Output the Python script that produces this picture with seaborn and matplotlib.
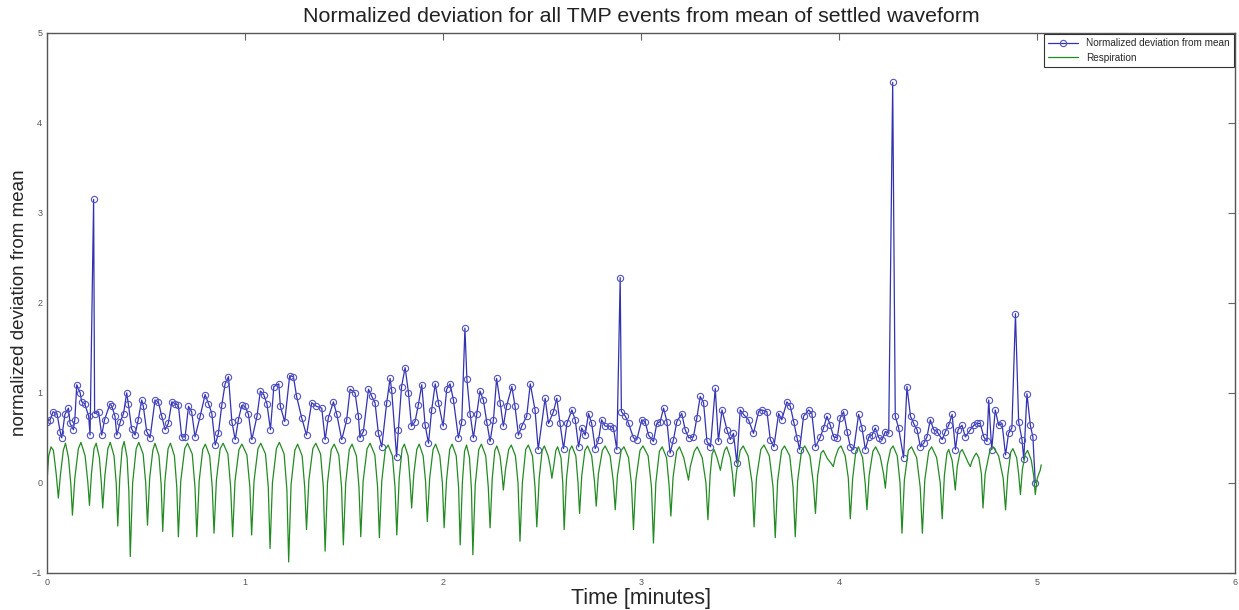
import matplotlib
matplotlib.use("Agg")
import matplotlib.pyplot as plt
import seaborn as sns

# normalized deviation of each TMP event (time in minutes, value)
dev_t = [
    0.000, 0.015, 0.030, 0.050, 0.066, 0.074, 0.090, 0.108, 0.116, 0.133,
    0.140, 0.150, 0.167, 0.175, 0.190, 0.210, 0.217, 0.235, 0.240, 0.260,
    0.276, 0.290, 0.318, 0.327, 0.343, 0.352, 0.370, 0.386, 0.402, 0.410,
    0.427, 0.444, 0.460, 0.478, 0.486, 0.503, 0.520, 0.545, 0.562, 0.579,
    0.596, 0.612, 0.630, 0.646, 0.663, 0.680, 0.697, 0.714, 0.730, 0.747,
    0.773, 0.798, 0.815, 0.832, 0.849, 0.865, 0.882, 0.899, 0.916, 0.933,
    0.950, 0.966, 0.983, 1.000, 1.017, 1.034, 1.060, 1.077, 1.094, 1.110,
    1.128, 1.145, 1.170, 1.178, 1.200, 1.225, 1.244, 1.260, 1.286, 1.310,
    1.336, 1.360, 1.387, 1.404, 1.420, 1.446, 1.463, 1.488, 1.513, 1.530,
    1.555, 1.572, 1.580, 1.597, 1.623, 1.640, 1.656, 1.673, 1.690, 1.715,
    1.732, 1.740, 1.765, 1.774, 1.790, 1.808, 1.825, 1.840, 1.858, 1.875,
    1.892, 1.909, 1.926, 1.942, 1.960, 1.976, 2.000, 2.018, 2.035, 2.052,
    2.077, 2.094, 2.110, 2.120, 2.136, 2.153, 2.170, 2.186, 2.203, 2.220,
    2.237, 2.254, 2.270, 2.288, 2.304, 2.320, 2.347, 2.363, 2.380, 2.397,
    2.422, 2.440, 2.464, 2.480, 2.515, 2.532, 2.557, 2.574, 2.590, 2.608,
    2.625, 2.650, 2.667, 2.684, 2.700, 2.717, 2.734, 2.750, 2.768, 2.785,
    2.800, 2.818, 2.844, 2.860, 2.877, 2.894, 2.900, 2.920, 2.936, 2.961,
    2.978, 3.003, 3.020, 3.037, 3.062, 3.079, 3.096, 3.113, 3.130, 3.146,
    3.163, 3.180, 3.205, 3.222, 3.240, 3.264, 3.281, 3.298, 3.315, 3.332,
    3.350, 3.374, 3.390, 3.408, 3.433, 3.450, 3.466, 3.483, 3.500, 3.517,
    3.542, 3.567, 3.593, 3.610, 3.635, 3.652, 3.670, 3.694, 3.710, 3.736,
    3.753, 3.770, 3.787, 3.800, 3.820, 3.846, 3.862, 3.880, 3.905, 3.921,
    3.938, 3.955, 3.972, 3.990, 4.005, 4.022, 4.040, 4.056, 4.073, 4.098,
    4.115, 4.132, 4.149, 4.166, 4.182, 4.200, 4.216, 4.233, 4.250, 4.270,
    4.283, 4.300, 4.325, 4.342, 4.360, 4.376, 4.393, 4.410, 4.427, 4.443,
    4.460, 4.477, 4.494, 4.520, 4.536, 4.553, 4.570, 4.587, 4.600, 4.620,
    4.637, 4.662, 4.680, 4.696, 4.712, 4.730, 4.746, 4.755, 4.770, 4.788,
    4.805, 4.822, 4.840, 4.855, 4.872, 4.890, 4.906, 4.923, 4.932, 4.948,
    4.965, 4.978, 4.990,
]
dev_y = [
    0.68, 0.70, 0.79, 0.77, 0.57, 0.50, 0.76, 0.83, 0.66, 0.59,
    0.70, 1.09, 1.00, 0.90, 0.88, 0.74, 0.53, 3.15, 0.77, 0.79,
    0.53, 0.70, 0.88, 0.85, 0.74, 0.53, 0.68, 0.77, 1.00, 0.88,
    0.60, 0.53, 0.70, 0.92, 0.85, 0.57, 0.50, 0.92, 0.90, 0.74,
    0.59, 0.66, 0.90, 0.88, 0.86, 0.51, 0.51, 0.85, 0.79, 0.51,
    0.74, 0.98, 0.88, 0.77, 0.42, 0.55, 0.86, 1.10, 1.18, 0.68,
    0.48, 0.70, 0.86, 0.85, 0.76, 0.48, 0.74, 1.02, 0.98, 0.88,
    0.59, 1.07, 1.10, 0.85, 0.68, 1.19, 1.18, 0.96, 0.72, 0.53,
    0.89, 0.85, 0.83, 0.48, 0.72, 0.90, 0.76, 0.48, 0.70, 1.04,
    1.00, 0.74, 0.50, 0.57, 1.04, 0.96, 0.89, 0.55, 0.40, 0.89,
    1.16, 1.03, 0.29, 0.59, 1.07, 1.28, 1.00, 0.63, 0.68, 0.87,
    1.09, 0.64, 0.44, 0.81, 1.10, 0.89, 0.63, 1.04, 1.10, 0.92,
    0.50, 0.68, 1.72, 1.15, 0.77, 0.50, 0.77, 1.02, 0.92, 0.68,
    0.46, 0.70, 1.16, 0.89, 0.63, 0.85, 1.07, 0.85, 0.53, 0.63,
    0.74, 1.10, 0.81, 0.37, 0.94, 0.66, 0.79, 0.94, 0.66, 0.38,
    0.66, 0.81, 0.70, 0.40, 0.61, 0.53, 0.77, 0.66, 0.38, 0.48,
    0.70, 0.63, 0.63, 0.61, 0.37, 2.28, 0.79, 0.74, 0.66, 0.50,
    0.48, 0.70, 0.68, 0.53, 0.46, 0.66, 0.68, 0.83, 0.68, 0.33,
    0.48, 0.68, 0.77, 0.59, 0.50, 0.51, 0.72, 0.96, 0.89, 0.46,
    0.40, 1.05, 0.46, 0.81, 0.59, 0.48, 0.55, 0.22, 0.81, 0.76,
    0.70, 0.55, 0.79, 0.81, 0.79, 0.48, 0.40, 0.77, 0.70, 0.90,
    0.85, 0.68, 0.50, 0.37, 0.74, 0.81, 0.77, 0.40, 0.51, 0.61,
    0.74, 0.64, 0.51, 0.50, 0.72, 0.79, 0.57, 0.40, 0.37, 0.76,
    0.61, 0.37, 0.51, 0.53, 0.61, 0.50, 0.48, 0.57, 0.55, 4.45,
    0.74, 0.61, 0.28, 1.07, 0.74, 0.66, 0.59, 0.40, 0.44, 0.51,
    0.70, 0.59, 0.57, 0.48, 0.57, 0.64, 0.76, 0.37, 0.59, 0.64,
    0.51, 0.59, 0.64, 0.66, 0.66, 0.51, 0.46, 0.92, 0.37, 0.81,
    0.64, 0.66, 0.31, 0.55, 0.61, 1.88, 0.68, 0.48, 0.26, 0.99,
    0.64, 0.51, 0.00,
]

# respiration trace (time in minutes, value)
resp_t = [
    0.000, 0.008, 0.020, 0.032, 0.046,
    0.057, 0.067, 0.082, 0.093, 0.108, 0.120,
    0.128, 0.140, 0.158, 0.171, 0.192, 0.206,
    0.214, 0.224, 0.237, 0.248, 0.264, 0.274,
    0.281, 0.292, 0.307, 0.319, 0.338, 0.349,
    0.357, 0.367, 0.379, 0.389, 0.404, 0.413,
    0.420, 0.432, 0.450, 0.463, 0.485, 0.498,
    0.507, 0.518, 0.534, 0.545, 0.565, 0.576,
    0.584, 0.595, 0.611, 0.623, 0.643, 0.655,
    0.663, 0.675, 0.695, 0.709, 0.733, 0.747,
    0.756, 0.768, 0.786, 0.799, 0.821, 0.834,
    0.843, 0.855, 0.874, 0.889, 0.913, 0.927,
    0.937, 0.949, 0.969, 0.984, 1.009, 1.024,
    1.033, 1.045, 1.065, 1.079, 1.103, 1.117,
    1.126, 1.138, 1.158, 1.173, 1.197, 1.211,
    1.220, 1.232, 1.251, 1.265, 1.288, 1.301,
    1.310, 1.322, 1.342, 1.357, 1.381, 1.395,
    1.404, 1.416, 1.435, 1.450, 1.473, 1.487,
    1.496, 1.508, 1.526, 1.540, 1.562, 1.575,
    1.584, 1.596, 1.616, 1.631, 1.655, 1.669,
    1.678, 1.690, 1.708, 1.722, 1.744, 1.757,
    1.766, 1.778, 1.793, 1.804, 1.823, 1.833,
    1.841, 1.852, 1.867, 1.879, 1.899, 1.911,
    1.920, 1.932, 1.949, 1.962, 1.983, 1.996,
    2.005, 2.017, 2.033, 2.045, 2.066, 2.078,
    2.086, 2.097, 2.108, 2.118, 2.133, 2.143,
    2.150, 2.162, 2.180, 2.193, 2.215, 2.228,
    2.237, 2.248, 2.261, 2.271, 2.287, 2.297,
    2.304, 2.315, 2.331, 2.344, 2.365, 2.378,
    2.388, 2.400, 2.417, 2.430, 2.451, 2.464,
    2.473, 2.485, 2.500, 2.511, 2.530, 2.541,
    2.549, 2.558, 2.569, 2.578, 2.595, 2.604,
    2.611, 2.623, 2.638, 2.650, 2.670, 2.681,
    2.689, 2.700, 2.716, 2.729, 2.750, 2.764,
    2.773, 2.784, 2.804, 2.818, 2.843, 2.859,
    2.869, 2.880, 2.899, 2.913, 2.936, 2.951,
    2.961, 2.973, 2.994, 3.009, 3.035, 3.052,
    3.062, 3.074, 3.092, 3.106, 3.128, 3.141,
    3.150, 3.161, 3.179, 3.193, 3.215, 3.230,
    3.239, 3.248, 3.268, 3.283, 3.308, 3.327,
    3.337, 3.348, 3.358, 3.368, 3.383, 3.393,
    3.400, 3.409, 3.421, 3.432, 3.450, 3.461,
    3.470, 3.481, 3.500, 3.515, 3.540, 3.560,
    3.570, 3.582, 3.604, 3.620, 3.647, 3.666,
    3.677, 3.689, 3.709, 3.724, 3.750, 3.767,
    3.778, 3.790, 3.810, 3.826, 3.852, 3.870,
    3.880, 3.891, 3.908, 3.920, 3.940, 3.958,
    3.970, 3.980, 3.996, 4.009, 4.030, 4.046,
    4.056, 4.068, 4.084, 4.097, 4.118, 4.131,
    4.140, 4.151, 4.170, 4.184, 4.206, 4.224,
    4.233, 4.243, 4.259, 4.272, 4.293, 4.307,
    4.317, 4.329, 4.349, 4.365, 4.391, 4.409,
    4.420, 4.432, 4.452, 4.467, 4.492, 4.510,
    4.520, 4.531, 4.544, 4.553, 4.570, 4.579,
    4.586, 4.596, 4.610, 4.621, 4.640, 4.652,
    4.662, 4.670, 4.683, 4.692, 4.705, 4.718,
    4.726, 4.737, 4.760, 4.777, 4.805, 4.828,
    4.840, 4.851, 4.866, 4.877, 4.896, 4.906,
    4.915, 4.925, 4.940, 4.951, 4.970, 4.982,
    4.990, 5.000, 5.008, 5.015, 5.020,
]
resp_y = [
    0.02, 0.30, 0.40, 0.36, 0.10,
    -0.17, 0.08, 0.36, 0.44, 0.28, -0.02,
    -0.36, 0.05, 0.38, 0.45, 0.30, 0.00,
    -0.25, 0.10, 0.38, 0.44, 0.28, 0.00,
    -0.28, 0.08, 0.38, 0.45, 0.30, 0.00,
    -0.48, 0.05, 0.38, 0.46, 0.28, -0.10,
    -0.82, 0.00, 0.38, 0.45, 0.32, 0.00,
    -0.47, 0.05, 0.36, 0.44, 0.30, -0.02,
    -0.54, 0.02, 0.38, 0.44, 0.30, -0.05,
    -0.60, 0.02, 0.38, 0.44, 0.32, -0.05,
    -0.60, 0.02, 0.37, 0.43, 0.30, -0.05,
    -0.56, 0.03, 0.38, 0.44, 0.32, -0.05,
    -0.60, 0.02, 0.37, 0.43, 0.31, -0.05,
    -0.58, 0.02, 0.38, 0.44, 0.32, -0.05,
    -0.73, 0.00, 0.38, 0.45, 0.32, -0.08,
    -0.88, -0.02, 0.36, 0.43, 0.30, -0.05,
    -0.52, 0.03, 0.38, 0.44, 0.32, -0.05,
    -0.76, 0.00, 0.37, 0.43, 0.31, -0.05,
    -0.69, 0.00, 0.37, 0.43, 0.30, -0.05,
    -0.60, 0.02, 0.38, 0.44, 0.31, -0.05,
    -0.61, 0.02, 0.37, 0.42, 0.30, -0.05,
    -0.58, 0.05, 0.38, 0.43, 0.30, 0.02,
    -0.28, 0.10, 0.37, 0.43, 0.30, 0.02,
    -0.43, 0.05, 0.37, 0.43, 0.30, 0.00,
    -0.50, 0.03, 0.37, 0.43, 0.30, -0.05,
    -0.69, 0.00, 0.35, 0.42, 0.28, -0.08,
    -0.80, -0.02, 0.37, 0.43, 0.30, -0.05,
    -0.50, 0.05, 0.36, 0.41, 0.30, 0.10,
    -0.08, 0.15, 0.37, 0.42, 0.30, 0.00,
    -0.65, 0.00, 0.37, 0.42, 0.30, -0.05,
    -0.49, 0.05, 0.36, 0.41, 0.30, 0.18,
    0.05, 0.18, 0.36, 0.40, 0.28, 0.00,
    -0.52, 0.05, 0.36, 0.41, 0.30, 0.00,
    -0.34, 0.08, 0.36, 0.41, 0.30, 0.02,
    -0.26, 0.10, 0.36, 0.41, 0.30, 0.02,
    -0.30, 0.08, 0.36, 0.40, 0.28, -0.02,
    -0.52, 0.03, 0.36, 0.41, 0.30, -0.05,
    -0.67, 0.00, 0.35, 0.40, 0.28, -0.03,
    -0.37, 0.06, 0.35, 0.40, 0.28, 0.12,
    0.03, 0.18, 0.35, 0.40, 0.28, 0.00,
    -0.41, 0.08, 0.32, 0.37, 0.28, 0.20,
    0.14, 0.25, 0.36, 0.40, 0.28, 0.10,
    -0.15, 0.12, 0.36, 0.41, 0.30, 0.00,
    -0.49, 0.05, 0.37, 0.42, 0.30, -0.05,
    -0.61, 0.02, 0.36, 0.41, 0.30, -0.05,
    -0.60, 0.02, 0.36, 0.41, 0.30, -0.02,
    -0.34, 0.08, 0.33, 0.36, 0.27, 0.22,
    0.18, 0.28, 0.38, 0.41, 0.30, 0.05,
    -0.40, 0.05, 0.35, 0.40, 0.28, 0.00,
    -0.30, 0.08, 0.35, 0.40, 0.30, 0.10,
    -0.06, 0.20, 0.37, 0.41, 0.30, 0.00,
    -0.56, 0.03, 0.36, 0.40, 0.28, -0.05,
    -0.56, 0.03, 0.35, 0.40, 0.28, 0.00,
    -0.40, 0.08, 0.33, 0.37, 0.25, 0.08,
    -0.08, 0.18, 0.34, 0.37, 0.28, 0.22,
    0.18, 0.24, 0.30, 0.33, 0.28, 0.10,
    -0.28, 0.10, 0.35, 0.40, 0.30, 0.05,
    -0.30, 0.08, 0.34, 0.38, 0.28, 0.10,
    -0.13, 0.15, 0.32, 0.36, 0.25, 0.08,
    -0.13, 0.05, 0.10, 0.14, 0.20,
]

x_ticks = [0, 1, 2, 3, 4, 5, 6]
y_ticks = [-1, 0, 1, 2, 3, 4, 5]

sns.set_style("white")
plt.rcParams["font.family"] = ["Liberation Sans", "DejaVu Sans"]

fig = plt.figure(figsize=(12.39, 6.10), dpi=100)
ax = fig.add_axes([0.038, 0.061, 0.959, 0.885])

sns.lineplot(x=dev_t, y=dev_y, ax=ax, sort=False, estimator=None,
             color="#3232b0", linewidth=0.9, marker="o", markersize=4.5,
             markerfacecolor="none", markeredgecolor="#5252c4",
             markeredgewidth=0.8, label="Normalized deviation from mean")
sns.lineplot(x=resp_t, y=resp_y, ax=ax, sort=False, estimator=None,
             color="#228b22", linewidth=0.9, label="Respiration")

ax.set_xlim(0, 6)
ax.set_ylim(-1, 5)
ax.set_xticks(x_ticks)
ax.set_yticks(y_ticks)
ax.tick_params(direction="in", length=5, width=0.8, top=True, right=True,
               labelsize=6.5, labelcolor="#555555", color="#666666")
for s in ax.spines.values():
    s.set_color("#555555")
    s.set_linewidth(1.0)

ax.set_title("Normalized deviation for all TMP events from mean of settled waveform",
             fontsize=15.4, pad=8, color="#222222")
ax.set_xlabel("Time [minutes]", fontsize=15.5, labelpad=1)
ax.set_ylabel("normalized deviation from mean", fontsize=13.5, labelpad=3)

leg = ax.legend(loc="upper right", fontsize=7.2, frameon=True, fancybox=False,
                borderaxespad=0.1, handlelength=3.0, labelspacing=0.45,
                borderpad=0.45, framealpha=1)
leg.get_frame().set_edgecolor("#333333")
leg.get_frame().set_linewidth(0.8)

fig.savefig("out.png", dpi=100)
